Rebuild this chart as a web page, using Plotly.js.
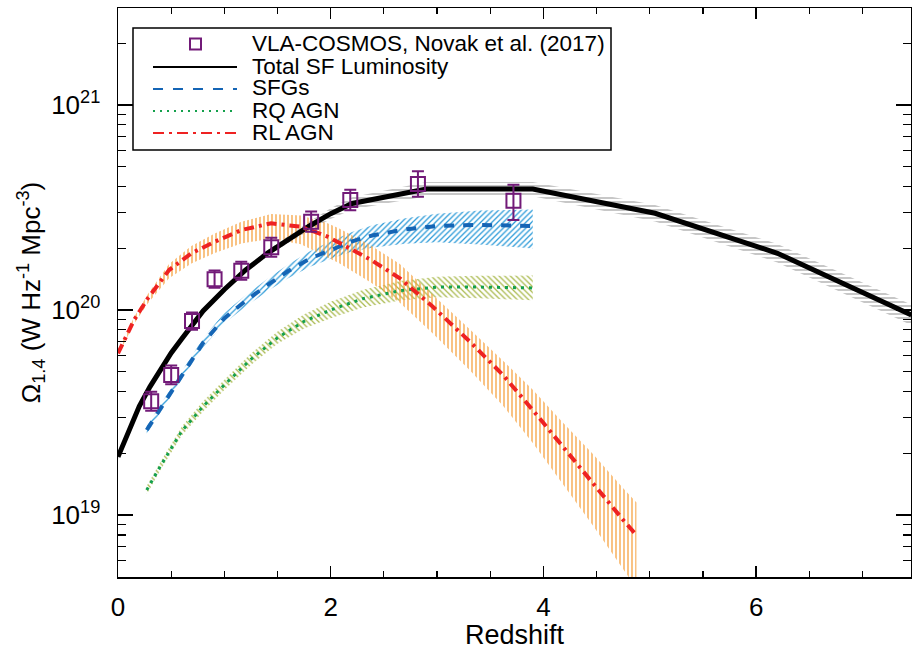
<!DOCTYPE html>
<html>
<head>
<meta charset="utf-8">
<script src="https://cdn.plot.ly/plotly-3.0.1.min.js"></script>
<style>html,body{margin:0;padding:0;background:#fff;}#chart{width:912px;height:650px;}</style>
</head>
<body>
<div id="chart"></div>
<script>
// ---------- data ----------
// VLA-COSMOS, Novak et al. (2017)
const z_vla = [0.312, 0.50, 0.696, 0.908, 1.159, 1.441, 1.816, 2.184, 2.82, 3.718];
const vla = [3.59e19, 4.82e19, 8.83e19, 1.413e20, 1.556e20, 2.023e20, 2.698e20, 3.443e20, 4.121e20, 3.412e20];
const vla_err_plus = [4.0e18, 5.4e18, 9.0e18, 1.44e19, 1.66e19, 2.26e19, 3.22e19, 4.20e19, 6.33e19, 6.71e19];
const vla_err_minus = [3.6e18, 4.8e18, 8.1e18, 1.30e19, 1.50e19, 2.03e19, 2.88e19, 3.74e19, 5.48e19, 6.64e19];

// Total SF luminosity
const z_total = [0, 0.1, 0.2, 0.3, 0.4, 0.5, 0.6, 0.8, 1.0, 1.2, 1.4, 1.6, 1.8, 2.0, 2.2, 2.9, 3.9, 5.05, 6.2, 7.46];
const total_sf = [1.923e19, 2.57e19, 3.39e19, 4.22e19, 5.13e19, 6.17e19, 7.24e19, 9.89e19, 1.259e20, 1.567e20, 1.884e20, 2.213e20, 2.57e20, 2.95e20, 3.31e20, 3.89e20, 3.89e20, 2.965e20, 1.892e20, 9.46e19];
const total_sf_hi = [1.968e19, 2.630e19, 3.467e19, 4.315e19, 5.248e19, 6.310e19, 7.413e19, 1.012e20, 1.288e20, 1.611e20, 1.950e20, 2.307e20, 2.704e20, 3.133e20, 3.548e20, 4.217e20, 4.217e20, 3.251e20, 2.099e20, 1.062e20];
const total_sf_lo = [1.879e19, 2.512e19, 3.311e19, 4.121e19, 5.012e19, 6.026e19, 7.079e19, 9.66e19, 1.230e20, 1.524e20, 1.820e20, 2.123e20, 2.443e20, 2.780e20, 3.090e20, 3.589e20, 3.589e20, 2.704e20, 1.706e20, 8.43e19];

// SFGs
const z_sfg = [0.27, 0.4, 0.5, 0.6, 0.8, 1.0, 1.2, 1.4, 1.6, 1.8, 2.0, 2.2, 2.4, 2.7, 3.0, 3.4, 3.9];
const sfg = [2.60e19, 3.31e19, 3.98e19, 4.84e19, 6.92e19, 9.12e19, 1.109e20, 1.318e20, 1.549e20, 1.778e20, 1.972e20, 2.163e20, 2.317e20, 2.472e20, 2.570e20, 2.600e20, 2.570e20];
const sfg_hi = [2.72e19, 3.467e19, 4.169e19, 5.07e19, 7.28e19, 9.66e19, 1.180e20, 1.413e20, 1.667e20, 1.928e20, 2.163e20, 2.399e20, 2.600e20, 2.805e20, 2.951e20, 3.055e20, 3.090e20];
const sfg_lo = [2.483e19, 3.162e19, 3.802e19, 4.624e19, 6.577e19, 8.61e19, 1.040e20, 1.230e20, 1.429e20, 1.622e20, 1.778e20, 1.928e20, 2.018e20, 2.104e20, 2.138e20, 2.089e20, 1.995e20];

// RQ AGN
const z_rq = [0.27, 0.4, 0.6, 0.8, 1.0, 1.25, 1.5, 1.75, 2.0, 2.3, 2.65, 3.0, 3.4, 3.9];
const rq = [1.324e19, 1.738e19, 2.570e19, 3.388e19, 4.315e19, 5.754e19, 7.328e19, 8.810e19, 1.0e20, 1.135e20, 1.242e20, 1.294e20, 1.294e20, 1.282e20];
const rq_hi = [1.387e19, 1.820e19, 2.704e19, 3.589e19, 4.571e19, 6.138e19, 7.852e19, 9.55e19, 1.096e20, 1.253e20, 1.384e20, 1.452e20, 1.469e20, 1.472e20];
const rq_lo = [1.265e19, 1.660e19, 2.443e19, 3.199e19, 4.074e19, 5.395e19, 6.839e19, 8.128e19, 9.12e19, 1.028e20, 1.114e20, 1.153e20, 1.140e20, 1.117e20];

// RL AGN
const z_rl = [0, 0.06, 0.15, 0.28, 0.48, 0.69, 0.91, 1.16, 1.44, 1.72, 1.97, 2.08, 2.37, 2.65, 2.96, 3.31, 3.62, 3.9, 4.18, 4.47, 4.75, 4.875];
const rl = [6.15e19, 7.14e19, 8.91e19, 1.140e20, 1.567e20, 1.892e20, 2.153e20, 2.455e20, 2.649e20, 2.547e20, 2.280e20, 2.128e20, 1.766e20, 1.429e20, 1.038e20, 7.00e19, 4.82e19, 3.25e19, 2.153e19, 1.429e19, 9.46e18, 7.98e18];
const rl_hi = [6.30e19, 7.35e19, 9.23e19, 1.194e20, 1.679e20, 2.051e20, 2.360e20, 2.692e20, 2.938e20, 2.891e20, 2.649e20, 2.500e20, 2.075e20, 1.679e20, 1.191e20, 8.04e19, 5.66e19, 4.09e19, 2.84e19, 1.972e19, 1.352e19, 1.153e19];
const rl_lo = [6.01e19, 6.95e19, 8.55e19, 1.076e20, 1.429e20, 1.687e20, 1.897e20, 2.113e20, 2.228e20, 2.094e20, 1.811e20, 1.690e20, 1.371e20, 1.084e20, 7.69e19, 5.07e19, 3.41e19, 2.249e19, 1.422e19, 8.81e18, 5.45e18, 4.39e18];

// text
const legend_labels = ['VLA-COSMOS, Novak et al. (2017)', 'Total SF Luminosity', 'SFGs', 'RQ AGN', 'RL AGN'];
const y_tickvals = [1e19, 1e20, 1e21];
const y_ticktext = ['10<sup>19</sup>', '10<sup>20</sup>', '10<sup>21</sup>'];
const x_tickvals = [0, 2, 4, 6];

// ---------- styling ----------
const FONT = 'Liberation Sans, Arial, Helvetica, sans-serif';
const C_VLA = '#721a78', C_TOT = '#000000', C_SFG = '#1565b5', C_RQ = '#14a04c', C_RL = '#ee2222';
const L = 118, R = 911, T = 8, B = 577;
const px = x => (x - L) / (R - L);
const py = y => (B - y) / (B - T);

function band(x, lo, hi, shape, color) {
  return [
    {x: x, y: lo, mode: 'lines', line: {width: 0}, showlegend: false, hoverinfo: 'skip'},
    {x: x, y: hi, mode: 'lines', line: {width: 0}, fill: 'tonexty', fillcolor: 'rgba(0,0,0,0)',
     fillpattern: {shape: shape, fgcolor: color, bgcolor: 'rgba(0,0,0,0)', size: 4, solidity: 0.32},
     showlegend: false, hoverinfo: 'skip'}
  ];
}

const traces = [].concat(
  band(z_total, total_sf_lo, total_sf_hi, '-', '#a8a8a8'),
  band(z_sfg, sfg_lo, sfg_hi, '/', '#2a9ad8'),
  band(z_rq, rq_lo, rq_hi, '\\', '#a9b94c'),
  band(z_rl, rl_lo, rl_hi, '|', '#f6a03c'),
  [
    {x: z_total, y: total_sf, mode: 'lines', line: {color: C_TOT, width: 5}, showlegend: false, name: legend_labels[1]},
    {x: z_sfg, y: sfg, mode: 'lines', line: {color: C_SFG, width: 4, dash: '10px,9px'}, showlegend: false, name: legend_labels[2]},
    {x: z_rq, y: rq, mode: 'lines', line: {color: C_RQ, width: 3, dash: '3px,5px'}, showlegend: false, name: legend_labels[3]},
    {x: z_rl, y: rl, mode: 'lines', line: {color: C_RL, width: 4, dash: '10px,5px,3px,5px'}, showlegend: false, name: legend_labels[4]},
    {x: z_vla, y: vla, mode: 'markers', name: legend_labels[0], showlegend: false,
     marker: {symbol: 'square-open', size: 14, color: C_VLA, line: {width: 2, color: C_VLA}},
     error_y: {type: 'data', symmetric: false, array: vla_err_plus, arrayminus: vla_err_minus, color: C_VLA, thickness: 2, width: 6}}
  ]
);

// minor log ticks (axis styling)
const yMinor = [];
for (let d = 18; d <= 21; d++) for (let m = 2; m <= 9; m++) yMinor.push(m * Math.pow(10, d));

// manual legend
const rowY = [44, 66, 88, 110, 132];
const shapes = [
  {type: 'rect', xref: 'paper', yref: 'paper', x0: px(133), x1: px(611), y0: py(150), y1: py(28), line: {color: '#000', width: 1.5}},
  {type: 'rect', xref: 'paper', yref: 'paper', x0: px(190), x1: px(201), y0: py(rowY[0] + 5.5), y1: py(rowY[0] - 5.5), line: {color: C_VLA, width: 2}},
  {type: 'line', xref: 'paper', yref: 'paper', x0: px(153), x1: px(237), y0: py(rowY[1] + 1), y1: py(rowY[1] + 1), line: {color: C_TOT, width: 2}},
  {type: 'line', xref: 'paper', yref: 'paper', x0: px(153), x1: px(237), y0: py(rowY[2] + 1), y1: py(rowY[2] + 1), line: {color: C_SFG, width: 2, dash: '10px,10px'}},
  {type: 'line', xref: 'paper', yref: 'paper', x0: px(153), x1: px(237), y0: py(rowY[3] + 1), y1: py(rowY[3] + 1), line: {color: C_RQ, width: 2, dash: '2px,5px'}},
  {type: 'line', xref: 'paper', yref: 'paper', x0: px(153), x1: px(237), y0: py(rowY[4] + 1), y1: py(rowY[4] + 1), line: {color: C_RL, width: 2, dash: '11px,5px,3px,5px'}}
];
const annotations = legend_labels.map((t, i) => ({
  text: t, xref: 'paper', yref: 'paper', x: px(250), y: py(rowY[i]), xanchor: 'left', yanchor: 'middle',
  showarrow: false, font: {family: FONT, size: 22.5, color: '#000'}
}));

const layout = {
  width: 912, height: 650,
  margin: {l: L, r: 912 - R, t: T, b: 650 - B, pad: 0},
  paper_bgcolor: '#fff', plot_bgcolor: '#fff',
  font: {family: FONT, size: 26, color: '#000'},
  showlegend: false,
  xaxis: {
    range: [0, 7.456], tickmode: 'array', tickvals: x_tickvals, ticktext: x_tickvals.map(String),
    ticks: 'inside', ticklen: 11, tickwidth: 1.5, tickcolor: '#000',
    minor: {dtick: 0.5, ticks: 'inside', ticklen: 6, tickwidth: 1.2, tickcolor: '#000'},
    showline: true, linecolor: '#000', linewidth: 1.5, mirror: 'ticks', showgrid: false, zeroline: false,
    tickfont: {size: 26}, ticklabelstandoff: 6,
    title: {text: 'Redshift', font: {size: 27}, standoff: 1}
  },
  yaxis: {
    type: 'log', range: [18.698, 21.473], tickmode: 'array', tickvals: y_tickvals, ticktext: y_ticktext,
    ticks: 'inside', ticklen: 15, tickwidth: 1.5, tickcolor: '#000',
    minor: {tickmode: 'array', tickvals: yMinor, ticks: 'inside', ticklen: 8, tickwidth: 1.2, tickcolor: '#000'},
    showline: true, linecolor: '#000', linewidth: 1.5, mirror: 'ticks', showgrid: false, zeroline: false,
    tickfont: {size: 26}, ticklabelstandoff: 11,
    title: {text: 'Ω<sub>1.4</sub> (W Hz<sup>-1</sup> Mpc<sup>-3</sup>)', font: {size: 26}, standoff: 3}
  },
  shapes: shapes, annotations: annotations
};

Plotly.newPlot('chart', traces, layout, {displayModeBar: false, staticPlot: true});
</script>
</body>
</html>
